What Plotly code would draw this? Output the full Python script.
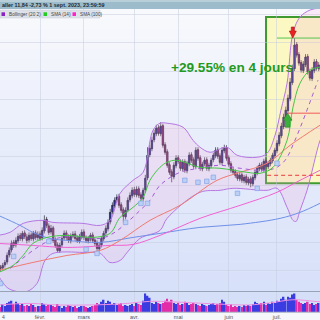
import plotly.graph_objects as go
import pandas as pd

# ---------------- data ----------------
trading_days = pd.bdate_range("2023-01-04", "2023-08-31")
month_names = ["févr.", "mars", "avr.", "mai", "juin", "juil.", "août"]
month_numbers = [2, 3, 4, 5, 6, 7, 8]

open_ = [3.78, 4.02, 3.98, 4.10, 4.22, 4.50, 4.70, 5.00, 4.90, 5.06, 5.28, 5.14, 5.38, 5.22, 5.10, 5.30, 5.14, 5.38, 5.20, 5.34,
         5.18, 5.46, 5.92, 5.66, 5.42, 5.58, 5.10, 4.90, 4.66, 4.90, 5.18, 5.38, 5.22, 5.06, 5.26, 5.34, 5.18, 5.06, 5.22, 5.42,
         5.18, 5.06, 5.14, 5.30, 5.10, 4.98, 4.74, 4.90, 5.14, 5.38, 5.54, 5.82, 6.22, 6.46, 6.70, 6.84, 6.50, 6.30, 6.02, 6.30,
         6.70, 6.86, 7.10, 6.90, 7.14, 6.90, 6.74, 7.10, 7.58, 8.50, 8.74, 9.10, 9.34, 9.58, 9.34, 9.66, 8.90, 8.62, 8.10, 7.82,
         7.62, 8.06, 8.38, 8.22, 7.94, 8.22, 7.86, 8.14, 8.50, 8.30, 8.02, 8.70, 8.38, 7.94, 8.14, 8.30, 7.94, 8.06, 8.30, 8.46,
         8.70, 8.46, 8.18, 8.66, 8.78, 8.38, 8.14, 7.90, 7.82, 7.70, 7.54, 7.70, 7.46, 7.62, 7.38, 7.54, 7.34, 7.58, 7.78, 7.94,
         8.10, 7.90, 8.26, 8.02, 8.14, 8.26, 8.46, 8.66, 8.94, 9.26, 9.62, 9.98, 10.26, 10.74, 11.38, 11.94, 12.90, 12.50, 12.18, 11.86,
         12.10, 12.42, 11.82, 11.54, 11.86, 12.22, 11.94, 12.10]
high = [3.98, 4.10, 4.18, 4.30, 4.60, 4.80, 5.08, 5.10, 5.20, 5.36, 5.38, 5.46, 5.48, 5.34, 5.40, 5.40, 5.46, 5.48, 5.44, 5.44,
        5.60, 6.08, 6.02, 5.76, 5.70, 5.66, 5.20, 5.00, 4.98, 5.26, 5.48, 5.48, 5.32, 5.36, 5.44, 5.46, 5.28, 5.34, 5.52, 5.52,
        5.28, 5.26, 5.38, 5.40, 5.20, 5.08, 4.98, 5.26, 5.46, 5.68, 5.92, 6.34, 6.60, 6.80, 6.92, 6.94, 6.60, 6.40, 6.40, 6.80,
        7.00, 7.20, 7.22, 7.24, 7.24, 7.00, 7.18, 7.70, 8.80, 8.90, 9.22, 9.50, 9.70, 9.68, 9.80, 9.74, 9.00, 8.72, 8.20, 7.92,
        8.20, 8.48, 8.48, 8.32, 8.32, 8.32, 8.26, 8.60, 8.60, 8.40, 8.80, 8.80, 8.48, 8.22, 8.40, 8.40, 8.18, 8.38, 8.58, 8.80,
        8.80, 8.56, 8.80, 8.90, 8.88, 8.48, 8.24, 8.00, 7.92, 7.80, 7.78, 7.80, 7.70, 7.72, 7.62, 7.64, 7.70, 7.90, 8.06, 8.18,
        8.20, 8.34, 8.36, 8.26, 8.38, 8.58, 8.78, 9.08, 9.40, 9.78, 10.14, 10.42, 10.90, 11.56, 12.10, 13.16, 13.00, 12.60, 12.28, 12.24,
        12.52, 12.52, 11.94, 12.00, 12.32, 12.32, 12.20, 12.20]
low = [3.68, 3.86, 3.88, 4.00, 4.12, 4.40, 4.60, 4.78, 4.80, 4.96, 5.06, 5.04, 5.14, 4.96, 5.00, 5.06, 5.04, 5.10, 5.10, 5.06,
       5.08, 5.36, 5.58, 5.30, 5.32, 4.98, 4.78, 4.60, 4.58, 4.80, 5.08, 5.10, 4.98, 4.96, 5.16, 5.06, 4.98, 4.96, 5.12, 5.10,
       4.98, 4.96, 5.04, 4.98, 4.86, 4.66, 4.64, 4.80, 5.04, 5.28, 5.44, 5.72, 6.12, 6.36, 6.60, 6.38, 6.18, 5.80, 5.92, 6.20,
       6.60, 6.76, 6.82, 6.80, 6.78, 6.66, 6.64, 7.00, 7.48, 8.40, 8.64, 9.00, 9.24, 9.26, 9.24, 8.78, 8.50, 7.98, 7.70, 7.40,
       7.52, 7.96, 8.14, 7.86, 7.84, 7.78, 7.76, 8.04, 8.18, 7.94, 7.92, 8.26, 7.86, 7.84, 8.04, 7.86, 7.84, 7.96, 8.20, 8.36,
       8.34, 8.10, 8.08, 8.56, 8.26, 8.02, 7.78, 7.70, 7.58, 7.46, 7.44, 7.38, 7.36, 7.30, 7.28, 7.20, 7.24, 7.48, 7.68, 7.84,
       7.82, 7.80, 7.94, 7.92, 8.04, 8.16, 8.36, 8.56, 8.84, 9.16, 9.52, 9.88, 10.16, 10.64, 11.28, 11.84, 12.38, 12.06, 11.78, 11.76,
       12.00, 11.70, 11.46, 11.44, 11.76, 11.86, 11.84, 11.78]
close = [3.88, 3.96, 4.08, 4.20, 4.48, 4.68, 4.96, 4.88, 5.08, 5.24, 5.16, 5.36, 5.24, 5.08, 5.28, 5.16, 5.36, 5.20, 5.32, 5.16,
         5.48, 5.88, 5.68, 5.40, 5.56, 5.08, 4.88, 4.68, 4.88, 5.16, 5.36, 5.20, 5.08, 5.24, 5.32, 5.16, 5.08, 5.24, 5.40, 5.20,
         5.08, 5.16, 5.28, 5.08, 4.96, 4.76, 4.88, 5.16, 5.36, 5.56, 5.80, 6.20, 6.48, 6.68, 6.80, 6.48, 6.28, 6.04, 6.28, 6.68,
         6.88, 7.08, 6.92, 7.12, 6.88, 6.76, 7.08, 7.56, 8.48, 8.76, 9.08, 9.36, 9.56, 9.36, 9.64, 8.88, 8.60, 8.08, 7.80, 7.64,
         8.08, 8.36, 8.24, 7.96, 8.20, 7.88, 8.16, 8.48, 8.28, 8.04, 8.68, 8.36, 7.96, 8.12, 8.28, 7.96, 8.08, 8.28, 8.48, 8.68,
         8.44, 8.20, 8.68, 8.76, 8.36, 8.12, 7.88, 7.80, 7.68, 7.56, 7.68, 7.48, 7.60, 7.40, 7.52, 7.36, 7.60, 7.80, 7.96, 8.08,
         7.92, 8.24, 8.04, 8.16, 8.28, 8.48, 8.68, 8.96, 9.28, 9.64, 10.00, 10.28, 10.76, 11.40, 11.96, 12.88, 12.48, 12.16, 11.88, 12.12,
         12.40, 11.80, 11.56, 11.88, 12.20, 11.96, 12.08, 11.88]
volume = [70, 50, 80, 60, 90, 100, 110, 80, 100, 90, 70, 80, 60, 70, 60, 80, 70, 50, 60, 60,
          90, 80, 60, 70, 70, 60, 50, 80, 60, 40, 60, 50, 70, 60, 50, 60, 40, 50, 60, 60,
          50, 40, 50, 60, 70, 90, 80, 100, 120, 90, 110, 100, 80, 90, 70, 80, 90, 60, 70, 60,
          70, 80, 60, 90, 80, 70, 110, 180, 160, 140, 90, 80, 100, 90, 80, 90, 110, 130, 100, 120,
          90, 80, 90, 70, 80, 100, 90, 70, 80, 90, 80, 70, 60, 80, 70, 60, 70, 80, 90, 70,
          80, 90, 120, 100, 70, 60, 80, 50, 60, 50, 60, 50, 70, 60, 70, 60, 80, 100, 90, 80,
          90, 100, 70, 90, 80, 100, 90, 110, 100, 130, 150, 120, 150, 140, 170, 180, 120, 100, 90, 80,
          90, 100, 80, 90, 70, 80, 90, 80]
day_index = list(range(1, len(close) + 1))

# indicator curves: (trading-day index, price)
bb_upper_x = [1, 6.3, 12.3, 21.4, 25.9, 39.6, 47.4, 51.9, 56.5, 62.4, 67.0, 71.5, 74.7, 77.9, 85.2, 89.7, 92.9, 97.5,
              105.2, 109.8, 118.9, 123.5, 127.1, 129.8, 132.6, 135.3, 138.5, 143.1, 147.6]
bb_upper_y = [5.28, 5.40, 5.76, 5.88, 5.80, 5.76, 5.68, 5.88, 6.96, 7.48, 7.80, 9.48, 9.76, 9.76, 9.60, 9.08, 8.80, 8.60,
              8.80, 8.48, 8.40, 8.56, 9.28, 10.28, 11.36, 13.36, 14.00, 14.28, 14.36]
bb_lower_x = [1, 5.0, 9.5, 14.1, 18.6, 22.3, 25.9, 39.6, 47.4, 51.9, 56.5, 59.7, 65.6, 74.7, 77.9, 92.9, 102.0, 108.0,
              123.5, 128.0, 132.6, 135.3, 136.7, 138.5, 141.7, 144.4, 146.3, 147.6]
bb_lower_y = [3.68, 3.20, 3.04, 3.04, 3.36, 4.28, 4.56, 4.60, 4.56, 4.20, 4.28, 4.60, 5.16, 5.48, 5.96, 7.00, 7.08, 7.16,
              7.08, 7.16, 6.40, 5.88, 5.84, 6.28, 7.08, 8.00, 8.68, 9.08]
bb_mid_x = [6.3, 10.9, 16.8, 24.6, 33.7, 47.4, 53.3, 59.7, 65.6, 70.1, 74.7, 83.8, 92.9, 102.0, 111.2, 120.3, 127.1,
            131.7, 136.2, 140.8, 146.7]
bb_mid_y = [3.96, 4.28, 4.68, 5.08, 5.24, 5.16, 5.36, 5.80, 6.28, 6.68, 7.28, 7.80, 7.96, 8.08, 7.96, 7.88, 7.96,
            8.28, 9.08, 10.08, 11.48]
sma14_x = [1, 7.7, 12.3, 16.8, 23.2, 32.3, 44.2, 51.9, 56.5, 62.4, 67.0, 70.1, 74.7, 77.9, 82.4, 92.9, 102.0, 114.3,
           120.3, 126.2, 132.6, 135.3, 138.5, 143.1, 147.6]
sma14_y = [3.80, 4.08, 4.48, 4.96, 5.20, 5.28, 5.20, 5.36, 6.00, 6.40, 6.80, 7.48, 8.00, 8.20, 8.28, 8.00, 7.96, 7.80,
           7.76, 8.00, 9.08, 10.40, 11.36, 11.88, 12.00]
sma100_x = [1, 16.8, 32.3, 51.9, 62.4, 74.7, 92.9, 111.2, 128.0, 138.5, 147.6]
sma100_y = [4.96, 4.88, 4.80, 4.88, 4.92, 5.28, 5.96, 6.48, 7.00, 7.48, 7.88]
sma50_x = [1, 16.8, 32.3, 47.4, 56.5, 70.1, 83.8, 100.7, 111.2, 123.5, 134.0, 147.6]
sma50_y = [3.88, 4.20, 4.48, 4.68, 5.08, 5.88, 6.48, 7.48, 7.80, 8.16, 8.88, 9.68]
sma200_x = [1, 10.9, 16.8, 24.6, 32.3, 47.4, 62.4, 74.7, 92.9, 111.2, 129.4, 138.5, 147.6]
sma200_y = [6.08, 5.68, 5.40, 5.16, 5.08, 5.00, 5.20, 5.36, 5.60, 5.72, 5.96, 6.20, 6.56]
vol_ma_x = [1, 15, 28, 47, 60, 70, 80, 100, 115, 125, 135, 145, 148]
vol_ma_y = [70, 85, 70, 72, 85, 105, 100, 80, 70, 90, 120, 105, 100]

event_idx = [2, 8, 24, 41, 46, 59, 66, 69, 86, 92, 96, 99, 110, 119, 128]
event_price = [3.36, 4.44, 5.04, 4.72, 4.56, 5.80, 6.56, 6.56, 7.48, 7.40, 7.44, 7.60, 6.96, 7.16, 8.16]

box_x = [123.0, 160.0]
box_y = [7.36, 14.0]
level_values = [13.16, 10.16, 7.68]
level_start = [128.0, 132.6, 123.5]
arrow_down = (135.2, 13.16)
arrow_up = (132.8, 10.16)
gain_text = "+29.55% en 4 jours"
gain_pos = (107.3, 12.0)
header_text = "aller 11,84 -2,73 % 1 sept. 2023, 23:59:59"
legend_items = ["Bollinger (20 2)", "SMA (14)", "SMA (100)"]

# ---------------- layout helpers ----------------
W = H = 320
XR = [1.77, 147.6]
YR = [3.04, 14.32]
sx = (XR[1] - XR[0]) / W
sy = (YR[1] - YR[0]) / 282.0


def py(v):
    return 1 - v / H


month_pos = []
for m in month_numbers:
    pos = [i for i, d in enumerate(trading_days) if d.month == m][0]
    month_pos.append(pos)

fig = go.Figure()

fig.add_trace(go.Scatter(x=bb_lower_x, y=bb_lower_y, mode="lines", line=dict(color="#b577e2", width=1, shape="spline"),
                         hoverinfo="skip"))
fig.add_trace(go.Scatter(x=bb_upper_x, y=bb_upper_y, mode="lines", line=dict(color="#b577e2", width=1, shape="spline"),
                         fill="tonexty", fillcolor="rgba(245,170,215,0.2)", hoverinfo="skip"))
fig.add_trace(go.Scatter(x=sma200_x, y=sma200_y, mode="lines", line=dict(color="#6f90e6", width=1, shape="spline")))
fig.add_trace(go.Scatter(x=sma100_x, y=sma100_y, mode="lines", line=dict(color="#f062d2", width=1, shape="spline")))
fig.add_trace(go.Scatter(x=sma50_x, y=sma50_y, mode="lines", line=dict(color="#f07a70", width=1, shape="spline")))
fig.add_trace(go.Scatter(x=bb_mid_x, y=bb_mid_y, mode="lines", line=dict(color="#a35ad6", width=1, dash="4px,4px", shape="spline")))
fig.add_trace(go.Scatter(x=sma14_x, y=sma14_y, mode="lines", line=dict(color="#45c445", width=1, shape="spline")))
fig.add_trace(go.Scatter(x=event_idx, y=event_price, mode="markers",
                         marker=dict(symbol="square", size=4.5, color="#bcd0f5", line=dict(color="#86a5e6", width=0.7))))

# candles: wicks from the candlestick trace, bodies as based bars for a crisper colour
fig.add_trace(go.Candlestick(x=day_index, open=open_, high=high, low=low, close=close,
                             increasing=dict(fillcolor="#3636e6", line=dict(color="#2c2c3a", width=0.7)),
                             decreasing=dict(fillcolor="#dc28aa", line=dict(color="#2c2c3a", width=0.7)),
                             whiskerwidth=0, xaxis="x", yaxis="y"))
body_base = [min(o, c) for o, c in zip(open_, close)]
body_len = [max(abs(c - o), 0.03) for o, c in zip(open_, close)]
body_colors = ["#3838e8" if c >= o else "#dc2aaa" for o, c in zip(open_, close)]
fig.add_trace(go.Bar(x=day_index, y=body_len, base=body_base, width=0.78,
                     marker=dict(color=body_colors, line=dict(color="#2c2c3a", width=0.35)),
                     xaxis="x", yaxis="y", hoverinfo="skip"))

vol_colors = ["#3b3be2" if c >= o else "#e22ca8" for o, c in zip(open_, close)]
fig.add_trace(go.Bar(x=day_index, y=volume, marker=dict(color=vol_colors, line=dict(width=0)), width=0.72,
                     xaxis="x2", yaxis="y2"))
fig.add_trace(go.Scatter(x=vol_ma_x, y=vol_ma_y, mode="lines", line=dict(color="#f08ee0", width=1, shape="spline"),
                         xaxis="x2", yaxis="y2"))

shapes = []
# background gradient of price panel
top_c = (248, 249, 253)
bot_c = (216, 225, 250)
nb = 28
y_top, y_bot = 9.0, 291.5
for k in range(nb):
    t = k / (nb - 1)
    c = tuple(int(top_c[j] + (bot_c[j] - top_c[j]) * t) for j in range(3))
    a = y_top + (y_bot - y_top) * k / nb
    b = y_top + (y_bot - y_top) * (k + 1) / nb
    shapes.append(dict(type="rect", xref="paper", yref="paper", x0=0, x1=1, y0=py(b + 0.5), y1=py(a),
                       fillcolor="rgb(%d,%d,%d)" % c, line=dict(width=0), layer="below"))
# volume panel background
shapes.append(dict(type="rect", xref="paper", yref="paper", x0=0, x1=1, y0=py(312), y1=py(291.5),
                   fillcolor="#d6dff8", line=dict(width=0), layer="below"))
# highlight box
shapes.append(dict(type="rect", xref="x", yref="y", x0=box_x[0], x1=box_x[1], y0=box_y[0], y1=box_y[1],
                   fillcolor="#fbf8c4", line=dict(color="#3f9b2f", width=2), layer="below"))
# separators
shapes.append(dict(type="line", xref="paper", yref="paper", x0=0, x1=1, y0=py(291.5), y1=py(291.5),
                   line=dict(color="#9aa3b5", width=1)))
shapes.append(dict(type="line", xref="paper", yref="paper", x0=0, x1=1, y0=py(312.2), y1=py(312.2),
                   line=dict(color="#a6aebf", width=1)))
# header bar
shapes.append(dict(type="rect", xref="paper", yref="paper", x0=0, x1=1, y0=py(9), y1=1,
                   fillcolor="#9dbccb", line=dict(width=0)))
shapes.append(dict(type="rect", xref="paper", yref="paper", x0=0, x1=1, y0=py(2), y1=1,
                   fillcolor="#b8cfd9", line=dict(width=0)))
# level lines
level_styles = [dict(color="#52c452", width=1), dict(color="#f05a5a", width=1),
                dict(color="#e63a3a", width=1, dash="4px,3px")]
for v, s, st in zip(level_values, level_start, level_styles):
    shapes.append(dict(type="line", xref="x", yref="y", x0=s, x1=box_x[1], y0=v, y1=v, line=st))

# arrows (block arrows built around their anchor)
ax_, ay_ = arrow_down
pts = [(ax_, ay_), (ax_ - 3.5 * sx, ay_ + 7 * sy), (ax_ - 1.5 * sx, ay_ + 7 * sy), (ax_ - 1.5 * sx, ay_ + 11 * sy),
       (ax_ + 1.5 * sx, ay_ + 11 * sy), (ax_ + 1.5 * sx, ay_ + 7 * sy), (ax_ + 3.5 * sx, ay_ + 7 * sy)]
shapes.append(dict(type="path", xref="x", yref="y",
                   path="M" + " L".join("%f,%f" % p for p in pts) + " Z",
                   fillcolor="#e82222", line=dict(color="#b01010", width=0.6)))
gx, gy = arrow_up
pts = [(gx, gy), (gx - 4.5 * sx, gy - 7 * sy), (gx - 2.3 * sx, gy - 7 * sy), (gx - 2.3 * sx, gy - 14 * sy),
       (gx + 2.3 * sx, gy - 14 * sy), (gx + 2.3 * sx, gy - 7 * sy), (gx + 4.5 * sx, gy - 7 * sy)]
shapes.append(dict(type="path", xref="x", yref="y",
                   path="M" + " L".join("%f,%f" % p for p in pts) + " Z",
                   fillcolor="#3cae3c", line=dict(color="#237a23", width=0.6)))

# legend boxes
leg_boxes = [(0, 41.5), (42, 70.5), (71, 100)]
leg_colors = ["#8a22c4", "#22cc22", "#ff22cc"]
for (a, b), col in zip(leg_boxes, leg_colors):
    shapes.append(dict(type="rect", xref="paper", yref="paper", x0=a / W, x1=b / W, y0=py(18), y1=py(10),
                       fillcolor="#dde1e8", line=dict(color="#c9ced8", width=0.5)))
    shapes.append(dict(type="rect", xref="paper", yref="paper", x0=(a + 1.5) / W, x1=(a + 5) / W,
                       y0=py(16), y1=py(12.3), fillcolor=col, line=dict(width=0)))

annotations = []
annotations.append(dict(xref="paper", yref="paper", x=0, y=py(4.7), xanchor="left", yanchor="middle",
                        text="<b>" + header_text + "</b>", showarrow=False,
                        font=dict(family="Liberation Sans, Arial", size=5.4, color="#1c2a33")))
for (a, b), txt in zip(leg_boxes, legend_items):
    annotations.append(dict(xref="paper", yref="paper", x=(a + 6.5) / W, y=py(14.2), xanchor="left",
                            yanchor="middle", text=txt, showarrow=False,
                            font=dict(family="Liberation Sans, Arial", size=4.7, color="#444")))
annotations.append(dict(xref="x", yref="y", x=gain_pos[0], y=gain_pos[1], text="<b>" + gain_text + "</b>",
                        showarrow=False, font=dict(family="Liberation Sans, Arial", size=13.6, color="#229a22")))
annotations.append(dict(xref="x2", yref="paper", x=month_pos[-1], y=py(316.5), yanchor="middle",
                        text=month_names[-1], showarrow=False,
                        font=dict(family="Liberation Sans, Arial", size=5.5, color="#555")))
annotations.append(dict(xref="paper", yref="paper", x=0, y=py(316.5), xanchor="left", yanchor="middle",
                        text="4", showarrow=False, font=dict(family="Liberation Sans, Arial", size=5.0, color="#555")))

grid_c = "rgba(196,204,222,0.5)"
fig.update_layout(
    width=W, height=H, margin=dict(l=0, r=0, t=0, b=0),
    paper_bgcolor="#f5f7fb", plot_bgcolor="rgba(0,0,0,0)",
    showlegend=False, shapes=shapes, annotations=annotations,
    xaxis=dict(domain=[0, 1], range=XR, anchor="y", showticklabels=False, showgrid=True, gridcolor=grid_c,
               tickvals=month_pos[:-1], zeroline=False, rangeslider=dict(visible=False), showline=False),
    yaxis=dict(domain=[py(291.5), py(9)], range=YR, showticklabels=False, showgrid=True, gridcolor=grid_c,
               tick0=9.56, dtick=1.14, zeroline=False),
    xaxis2=dict(domain=[0, 1], range=XR, anchor="y2", matches="x", showgrid=True, gridcolor=grid_c,
                tickvals=month_pos[:-1], ticktext=month_names[:-1], ticks="", ticklen=0,
                tickfont=dict(family="Liberation Sans, Arial", size=5.5, color="#555"), zeroline=False),
    yaxis2=dict(domain=[py(312.2), py(291.5)], range=[0, 200], showticklabels=False, showgrid=False,
                zeroline=False),
    bargap=0.2, barmode="overlay",
)

fig.write_html("out.html")
